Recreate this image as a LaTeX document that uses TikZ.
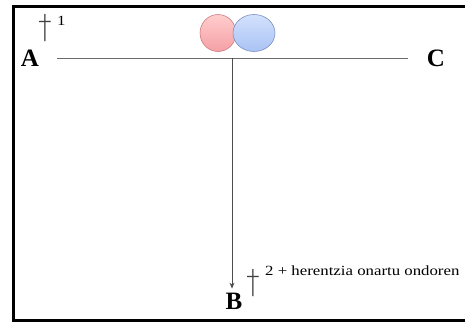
\documentclass[tikz,border=0pt]{standalone}
\usepackage{fontspec}
\setmainfont{Liberation Serif}
\newfontfamily\widefont[FakeStretch=1.2]{Liberation Serif}
\newfontfamily\thinfont[FakeStretch=0.8]{DejaVu Sans ExtraLight}
\usetikzlibrary{shapes.geometric,arrows.meta}
\definecolor{pinktop}{RGB}{255,205,205}
\definecolor{pinkbot}{RGB}{245,160,165}
\definecolor{pinkline}{RGB}{205,125,130}
\definecolor{bluetop}{RGB}{210,225,252}
\definecolor{bluebot}{RGB}{170,195,245}
\definecolor{blueline}{RGB}{125,145,195}
\begin{document}
\begin{tikzpicture}[x=1pt,y=-1pt,
  lbl/.style={font=\bfseries\fontsize{25}{25}\selectfont, inner sep=0pt},
  dag/.style={font=\thinfont\fontsize{33}{33}\selectfont, inner sep=0pt, text=black!75},
  small/.style={font=\widefont\fontsize{14}{14}\selectfont, inner sep=0pt, anchor=base west},
  bar/.style={draw=gray!85!black, line width=0.8pt}]
\useasboundingbox (0,0) rectangle (465,322);
\draw[line width=3pt] (480,6) -- (13.5,6) -- (13.5,320) -- (480,320);
\node[lbl] (A) at (30,58) {A};
\node[lbl] (C) at (436,58) {C};
\node[lbl] (B) at (234,301) {B};
\node[dag] (d1) at (45,28) {†};
\node[small] (n1) at (57,25) {1};
\node[dag] (d2) at (253,283) {†};
\node[small] (n2) at (265,275) {2 + herentzia onartu ondoren};
\coordinate (L) at (57,58);
\coordinate (R) at (408,58);
\coordinate (M) at (232,58);
\draw[bar] (L) -- (R);
\node[ellipse, draw=pinkline, line width=0.6pt, inner sep=0pt, minimum width=36pt, minimum height=37pt,
  top color=pinktop, bottom color=pinkbot] (p) at (218,33) {};
\node[ellipse, draw=blueline, line width=0.6pt, inner sep=0pt, minimum width=42pt, minimum height=37pt,
  top color=bluetop, bottom color=bluebot] (q) at (254,33) {};
\draw[bar, draw=black!70, -{Stealth[length=6pt,width=5pt]}, shorten >=4pt] (M) -- (M |- B.north);
\end{tikzpicture}
\end{document}
